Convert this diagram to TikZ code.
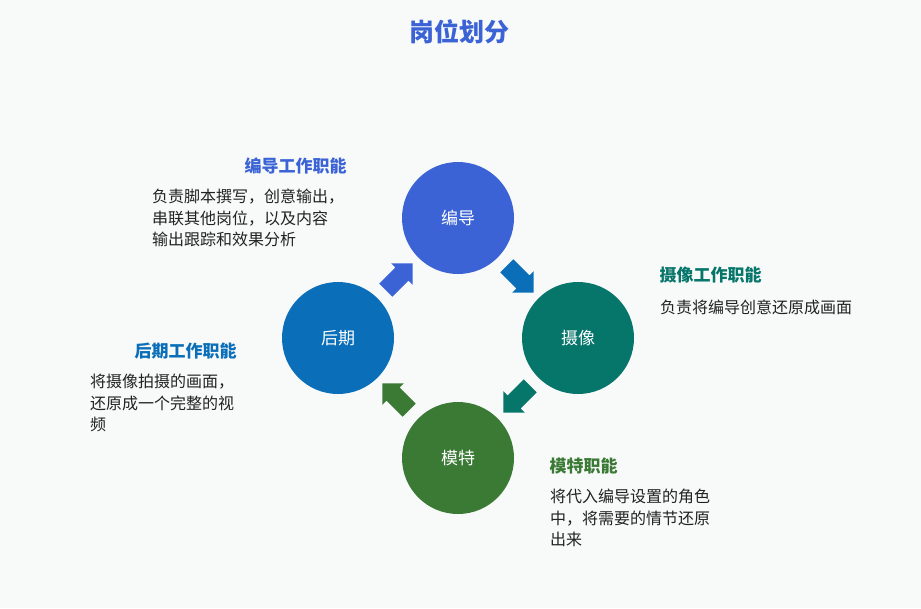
\documentclass[tikz,border=0pt]{standalone}
\usepackage{fontspec}
\setmainfont{Noto Sans CJK SC}
\usetikzlibrary{shapes.arrows}
\definecolor{bg}{HTML}{F8F9F9}
\definecolor{cA}{HTML}{3B63D6}
\definecolor{cB}{HTML}{06756A}
\definecolor{cC}{HTML}{3A7A35}
\definecolor{cD}{HTML}{0A6FB8}
\definecolor{txt}{HTML}{222222}
\begin{document}
\begin{tikzpicture}[x=1pt,y=-1pt,
  circ/.style={circle,minimum size=112pt,inner sep=0pt,text=white,font=\fontsize{17}{20}\selectfont},
  barrow/.style={single arrow,minimum height=38pt,inner sep=9pt,single arrow head extend=6pt,draw=none},
  ttl/.style={anchor=west,font=\bfseries\fontsize{17}{20}\selectfont},
  body/.style={anchor=north west,align=left,text=txt,font=\fontsize{16}{21.5}\selectfont,inner sep=0pt}]
\fill[bg] (0,0) rectangle (921,608);
\useasboundingbox (0,0) rectangle (921,608);
\node[text=cA,font=\bfseries\fontsize{25}{30}\selectfont] (title) at (459,32) {岗位划分};
\node[circ,fill=cA] (bd) at (458,218) {编导};
\node[circ,fill=cB] (sx) at (578,338) {摄像};
\node[circ,fill=cC] (mt) at (458,458) {模特};
\node[circ,fill=cD] (hq) at (338,338) {后期};
\node[barrow,fill=cA,rotate=45] (a1) at (396,280) {};
\node[barrow,fill=cD,rotate=-45] (a2) at (517,276) {};
\node[barrow,fill=cB,rotate=-135] (a3) at (520,396) {};
\node[barrow,fill=cC,rotate=135] (a4) at (399,400) {};
\node[ttl,text=cA] (t1) at (241,166) {编导工作职能};
\node[body] (b1) at (152,189) {负责脚本撰写，创意输出，\\串联其他岗位，以及内容\\输出跟踪和效果分析};
\node[ttl,text=cB] (t2) at (656,275) {摄像工作职能};
\node[body] (b2) at (660,300) {负责将编导创意还原成画面};
\node[ttl,text=cD] (t3) at (131,351) {后期工作职能};
\node[body] (b3) at (90,374) {将摄像拍摄的画面，\\还原成一个完整的视\\频};
\node[ttl,text=cC] (t4) at (546,466) {模特职能};
\node[body] (b4) at (550,489) {将代入编导设置的角色\\中，将需要的情节还原\\出来};
\end{tikzpicture}
\end{document}
